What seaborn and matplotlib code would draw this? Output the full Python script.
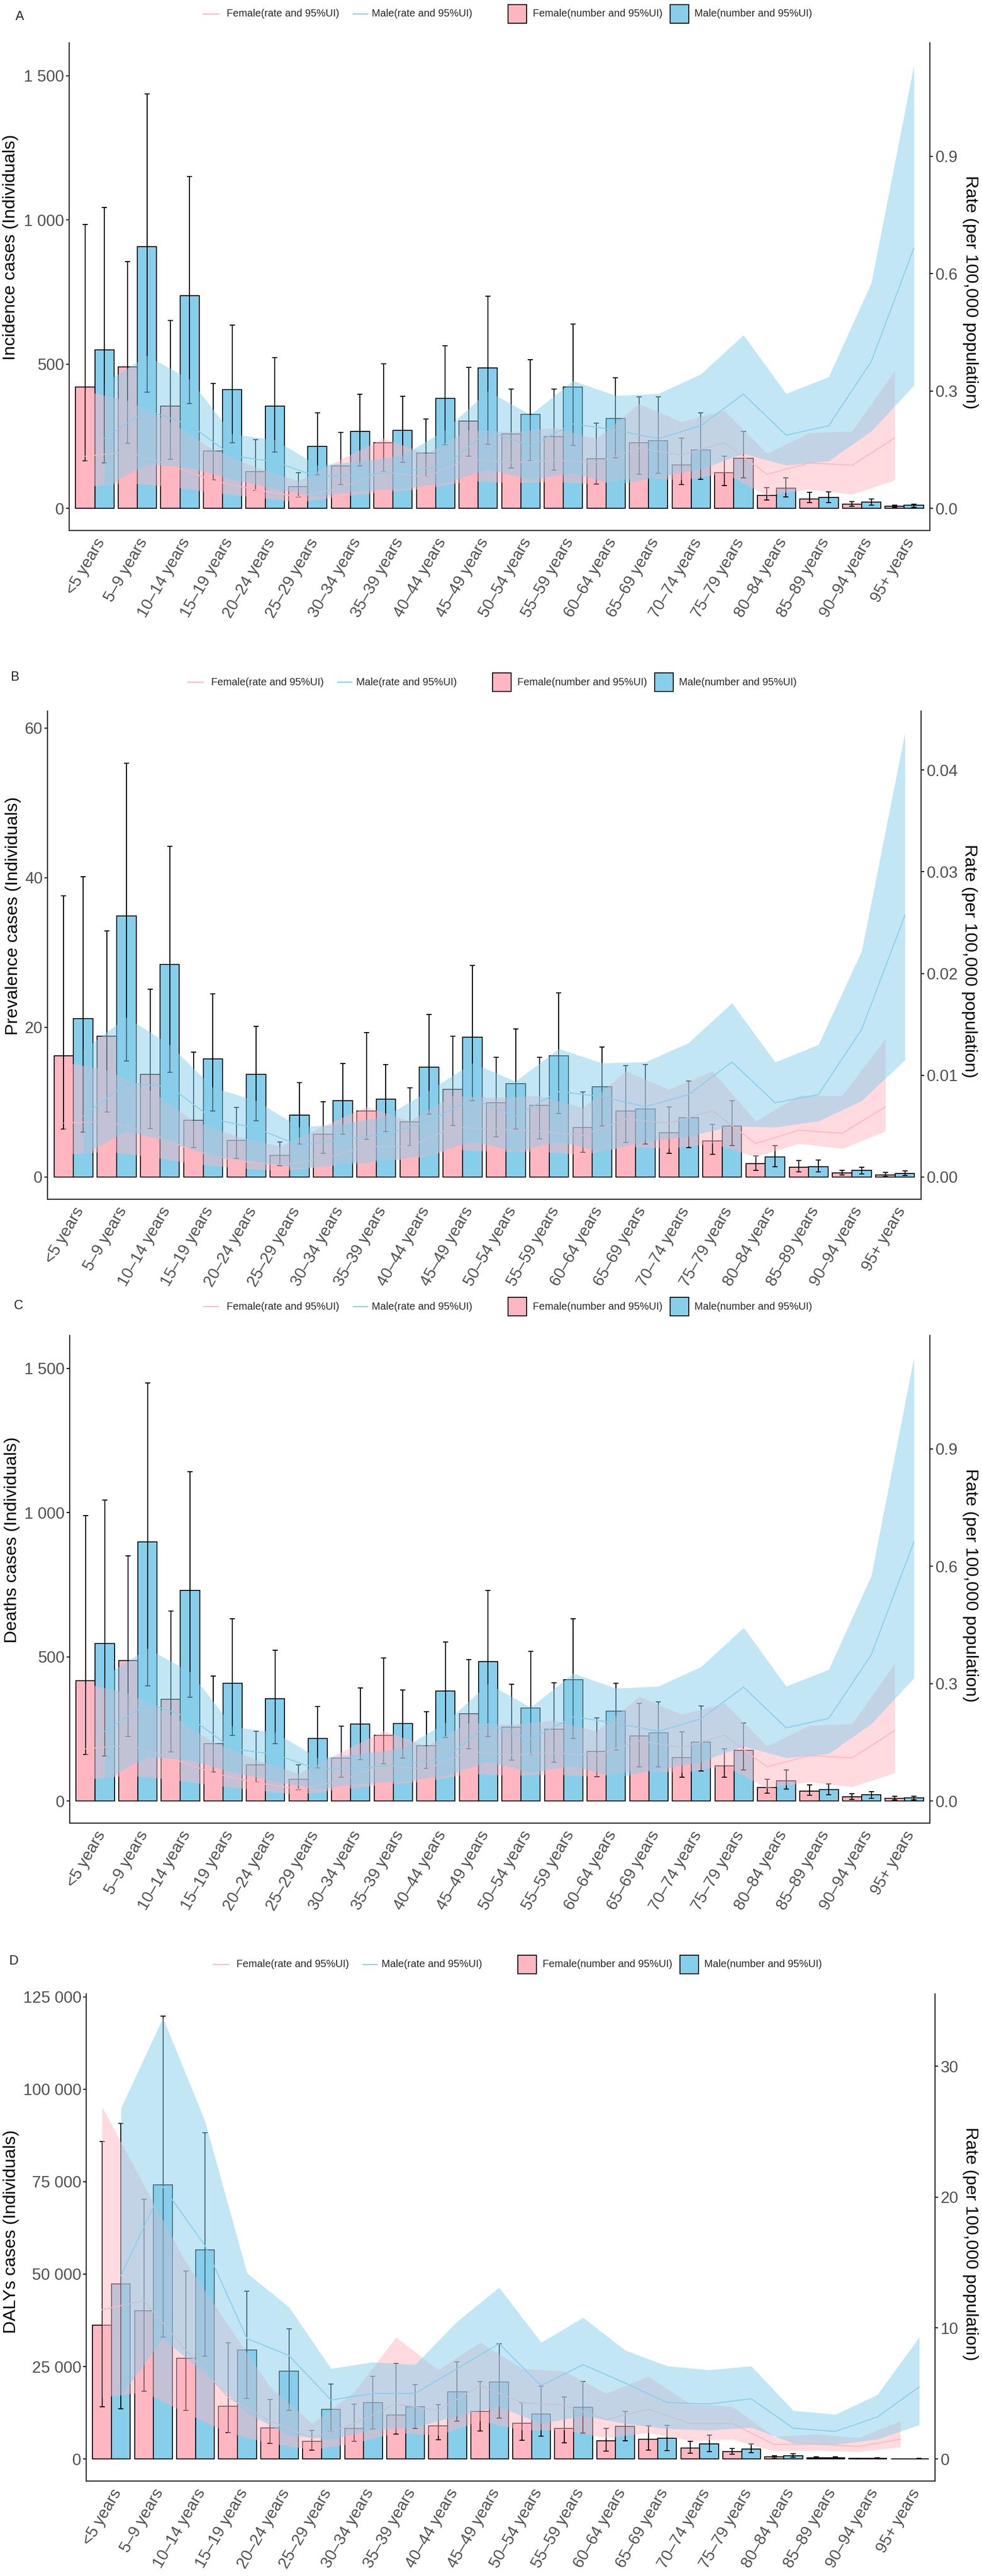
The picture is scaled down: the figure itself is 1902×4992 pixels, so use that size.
import matplotlib
matplotlib.use("Agg")
import matplotlib.pyplot as plt
import numpy as np
import pandas as pd
import seaborn as sns
from matplotlib.lines import Line2D
from matplotlib.patches import Rectangle

# ---------------- data ----------------
age_groups = ["<5 years", "5–9 years", "10–14 years", "15–19 years", "20–24 years",
              "25–29 years", "30–34 years", "35–39 years", "40–44 years", "45–49 years",
              "50–54 years", "55–59 years", "60–64 years", "65–69 years", "70–74 years",
              "75–79 years", "80–84 years", "85–89 years", "90–94 years", "95+ years"]

# Panel A: incidence
A_female_number = [421, 490, 354, 199, 127, 76, 147, 228, 191, 302, 258, 249, 172, 227, 151, 123, 44, 33, 14, 8]
A_female_lo = [165, 225, 170, 98, 63, 39, 82, 128, 110, 180, 139, 132, 85, 119, 82, 79, 28, 19, 8, 3]
A_female_hi = [984, 855, 651, 434, 239, 123, 264, 502, 309, 489, 414, 414, 296, 387, 244, 180, 72, 55, 23, 11]
A_male_number = [550, 907, 738, 411, 355, 215, 267, 271, 382, 486, 326, 421, 311, 234, 203, 174, 69, 37, 21, 10]
A_male_lo = [157, 403, 363, 227, 196, 116, 146, 159, 220, 222, 165, 219, 175, 121, 100, 106, 39, 19, 10, 4]
A_male_hi = [1043, 1437, 1150, 636, 523, 331, 395, 389, 564, 735, 516, 639, 452, 387, 332, 266, 106, 57, 33, 15]
A_female_rate = [0.133, 0.144, 0.110, 0.071, 0.047, 0.030, 0.052, 0.093, 0.080, 0.127, 0.117, 0.123, 0.117, 0.154, 0.136, 0.168, 0.087, 0.116, 0.110, 0.180]
A_female_rate_lo = [0.055, 0.065, 0.055, 0.040, 0.028, 0.016, 0.030, 0.042, 0.050, 0.070, 0.065, 0.068, 0.062, 0.080, 0.072, 0.090, 0.033, 0.049, 0.036, 0.072]
A_female_rate_hi = [0.300, 0.275, 0.220, 0.150, 0.105, 0.070, 0.125, 0.179, 0.140, 0.200, 0.195, 0.206, 0.178, 0.267, 0.221, 0.250, 0.140, 0.193, 0.197, 0.352]
A_male_rate = [0.179, 0.250, 0.214, 0.134, 0.119, 0.081, 0.085, 0.093, 0.109, 0.197, 0.159, 0.216, 0.200, 0.178, 0.211, 0.292, 0.187, 0.211, 0.375, 0.665]
A_male_rate_lo = [0.054, 0.113, 0.104, 0.074, 0.050, 0.030, 0.045, 0.050, 0.065, 0.100, 0.073, 0.090, 0.060, 0.080, 0.100, 0.140, 0.110, 0.121, 0.197, 0.314]
A_male_rate_hi = [0.320, 0.390, 0.330, 0.190, 0.175, 0.110, 0.120, 0.135, 0.200, 0.300, 0.239, 0.326, 0.288, 0.293, 0.343, 0.443, 0.293, 0.336, 0.576, 1.133]

# Panel B: prevalence
B_female_number = [16.2, 18.8, 13.7, 7.6, 4.9, 2.9, 5.7, 8.8, 7.4, 11.7, 9.9, 9.6, 6.6, 8.8, 5.9, 4.8, 1.8, 1.3, 0.55, 0.3]
B_female_lo = [6.4, 8.7, 6.5, 3.9, 2.5, 1.5, 3.2, 5.0, 4.2, 6.9, 5.4, 5.1, 3.3, 4.6, 3.2, 3.0, 0.9, 0.7, 0.3, 0.1]
B_female_hi = [37.6, 32.9, 25.1, 16.7, 9.3, 4.7, 10.1, 19.3, 11.9, 18.8, 16.0, 16.0, 11.4, 14.9, 9.4, 7.0, 2.8, 2.2, 0.9, 0.6]
B_male_number = [21.2, 34.9, 28.4, 15.8, 13.7, 8.3, 10.2, 10.4, 14.7, 18.7, 12.5, 16.2, 12.1, 9.1, 7.9, 6.8, 2.7, 1.4, 0.9, 0.45]
B_male_lo = [6.0, 15.5, 14.0, 8.8, 7.5, 4.4, 5.7, 6.1, 8.4, 10.2, 6.4, 8.5, 6.8, 4.4, 3.9, 4.2, 1.4, 0.7, 0.4, 0.2]
B_male_hi = [40.1, 55.3, 44.2, 24.5, 20.1, 12.6, 15.2, 15.0, 21.7, 28.3, 19.8, 24.6, 17.4, 15.0, 12.8, 10.2, 4.2, 2.3, 1.3, 0.8]
B_female_rate = [0.0053, 0.0055, 0.0043, 0.0026, 0.0016, 0.0012, 0.0018, 0.0030, 0.0030, 0.0049, 0.0047, 0.0045, 0.0041, 0.0057, 0.0053, 0.0065, 0.0033, 0.0046, 0.0043, 0.0069]
B_female_rate_lo = [0.0022, 0.0025, 0.0020, 0.0013, 0.0009, 0.0006, 0.0010, 0.0017, 0.0017, 0.0027, 0.0025, 0.0025, 0.0022, 0.0030, 0.0028, 0.0033, 0.0020, 0.0033, 0.0028, 0.0045]
B_female_rate_hi = [0.0113, 0.0105, 0.0085, 0.0055, 0.0040, 0.0030, 0.0050, 0.0069, 0.0055, 0.0080, 0.0078, 0.0080, 0.0068, 0.0104, 0.0086, 0.0104, 0.0055, 0.0080, 0.0080, 0.0136]
B_male_rate = [0.0060, 0.0092, 0.0089, 0.0057, 0.0048, 0.0031, 0.0037, 0.0042, 0.0055, 0.0077, 0.0060, 0.0084, 0.0079, 0.0069, 0.0081, 0.0113, 0.0073, 0.0081, 0.0145, 0.0257]
B_male_rate_lo = [0.0022, 0.0045, 0.0035, 0.0020, 0.0015, 0.0009, 0.0012, 0.0016, 0.0022, 0.0035, 0.0025, 0.0035, 0.0025, 0.0035, 0.0040, 0.0050, 0.0049, 0.0055, 0.0075, 0.0115]
B_male_rate_hi = [0.0125, 0.0157, 0.0130, 0.0088, 0.0075, 0.0049, 0.0052, 0.0060, 0.0085, 0.0112, 0.0094, 0.0126, 0.0112, 0.0113, 0.0132, 0.0171, 0.0113, 0.0130, 0.0222, 0.0436]

# Panel C: deaths
C_female_number = [417, 487, 352, 198, 126, 76, 148, 227, 191, 302, 256, 249, 172, 226, 151, 122, 46, 34, 14, 9]
C_female_lo = [162, 223, 170, 101, 65, 40, 83, 129, 112, 180, 141, 134, 85, 119, 82, 82, 27, 20, 6, 3]
C_female_hi = [989, 851, 658, 434, 241, 125, 259, 496, 309, 491, 405, 410, 289, 339, 240, 180, 75, 55, 25, 16]
C_male_number = [546, 898, 731, 408, 355, 216, 266, 269, 381, 484, 323, 420, 312, 236, 204, 175, 70, 39, 22, 11]
C_male_lo = [155, 400, 359, 227, 198, 115, 144, 148, 220, 223, 162, 217, 177, 119, 103, 108, 42, 22, 9, 4]
C_male_hi = [1043, 1449, 1141, 631, 523, 328, 392, 384, 552, 730, 519, 631, 408, 343, 330, 270, 108, 60, 33, 17]
C_female_rate = [0.133, 0.143, 0.110, 0.071, 0.047, 0.030, 0.052, 0.093, 0.080, 0.127, 0.117, 0.123, 0.117, 0.154, 0.136, 0.168, 0.087, 0.116, 0.110, 0.180]
C_female_rate_lo = [0.055, 0.065, 0.055, 0.040, 0.028, 0.016, 0.030, 0.042, 0.050, 0.070, 0.065, 0.068, 0.062, 0.080, 0.072, 0.090, 0.033, 0.049, 0.036, 0.072]
C_female_rate_hi = [0.300, 0.275, 0.220, 0.150, 0.105, 0.070, 0.125, 0.179, 0.140, 0.200, 0.195, 0.206, 0.178, 0.267, 0.221, 0.250, 0.140, 0.193, 0.197, 0.352]
C_male_rate = [0.178, 0.249, 0.213, 0.133, 0.119, 0.081, 0.085, 0.093, 0.109, 0.196, 0.158, 0.215, 0.199, 0.178, 0.210, 0.291, 0.187, 0.211, 0.374, 0.662]
C_male_rate_lo = [0.054, 0.113, 0.104, 0.074, 0.050, 0.030, 0.045, 0.050, 0.065, 0.100, 0.073, 0.090, 0.060, 0.080, 0.100, 0.140, 0.110, 0.121, 0.197, 0.314]
C_male_rate_hi = [0.320, 0.390, 0.330, 0.190, 0.175, 0.110, 0.120, 0.135, 0.200, 0.300, 0.239, 0.326, 0.288, 0.293, 0.343, 0.443, 0.293, 0.336, 0.576, 1.133]

# Panel D: DALYs
D_female_number = [36100, 40100, 27200, 14200, 8400, 4700, 8300, 11900, 8900, 12900, 9700, 8200, 4900, 5300, 3000, 2000, 600, 330, 120, 40]
D_female_lo = [14100, 18300, 13100, 7100, 4200, 2400, 4700, 6700, 5200, 7600, 5100, 4300, 2100, 2400, 1600, 1300, 200, 150, 50, 10]
D_female_hi = [85900, 70300, 50800, 31400, 16100, 7700, 14800, 25900, 14700, 20900, 15200, 16700, 8200, 9000, 4800, 2800, 900, 550, 220, 80]
D_male_number = [47400, 74200, 56500, 29400, 23800, 13400, 15200, 14100, 18100, 20800, 12200, 14000, 8800, 5600, 4000, 2700, 900, 350, 200, 50]
D_male_lo = [13600, 33000, 27800, 16300, 13200, 7400, 8100, 8300, 10200, 11100, 6100, 7000, 4900, 2300, 2000, 1700, 400, 150, 80, 20]
D_male_hi = [90800, 119800, 88300, 45400, 35200, 20300, 22400, 20100, 26200, 31200, 19700, 20900, 12900, 9100, 6400, 4100, 1400, 600, 330, 100]
D_female_rate = [11.4, 12.1, 8.3, 4.7, 2.9, 1.6, 2.7, 4.2, 3.7, 5.6, 4.3, 4.1, 3.0, 3.8, 2.7, 2.7, 1.1, 1.13, 0.95, 1.5]
D_female_rate_lo = [4.7, 5.1, 3.5, 2.0, 1.2, 0.7, 1.2, 2.0, 1.8, 2.9, 2.2, 2.2, 1.6, 2.0, 1.4, 1.5, 0.6, 0.65, 0.55, 0.9]
D_female_rate_hi = [26.9, 20.9, 15.0, 10.2, 5.5, 2.7, 5.1, 9.3, 6.8, 8.9, 6.9, 6.7, 5.0, 6.3, 4.2, 4.0, 1.7, 1.9, 1.6, 2.9]
D_male_rate = [14.0, 20.8, 16.3, 9.2, 7.9, 4.5, 5.0, 5.0, 6.9, 8.8, 5.6, 7.2, 5.8, 4.3, 4.2, 4.6, 2.35, 2.1, 3.2, 5.5]
D_male_rate_lo = [4.8, 9.2, 6.5, 3.5, 1.8, 1.5, 2.2, 2.4, 3.3, 4.0, 2.7, 3.3, 2.7, 2.3, 2.2, 2.4, 1.2, 1.1, 1.5, 2.6]
D_male_rate_hi = [26.8, 33.7, 25.8, 14.2, 11.6, 6.9, 7.4, 7.2, 10.5, 13.1, 8.9, 10.8, 8.3, 7.1, 6.8, 7.1, 3.7, 3.4, 4.9, 9.3]

A_count_ticks = [0, 500, 1000, 1500]
B_count_ticks = [0, 20, 40, 60]
C_count_ticks = [0, 500, 1000, 1500]
D_count_ticks = [0, 25000, 50000, 75000, 100000, 125000]
A_rate_ticks = [0.0, 0.3, 0.6, 0.9]
B_rate_ticks = [0.00, 0.01, 0.02, 0.03, 0.04]
C_rate_ticks = [0.0, 0.3, 0.6, 0.9]
D_rate_ticks = [0, 10, 20, 30]

# ---------------- style ----------------
PINK = "#FFB6C1"
BLUE = "#87CEEB"
GREY_TXT = "#4D4D4D"

sns.set_style("white")
plt.rcParams["font.family"] = ["Liberation Sans", "DejaVu Sans"]

W, H = 1902, 4992
fig = plt.figure(figsize=(W / 100, H / 100), dpi=100)

TICK_FS = 22.5
TITLE_FS = 24.5
LEG_FS = 14.3
TAG_FS = 18


def fx(x):
    return x / W


def fy(y):
    return 1 - y / H


def fmt_count(v):
    return f"{int(round(v)):,}".replace(",", " ")


def draw_legend(x0, yc):
    lw = 1.6
    fig.add_artist(Line2D([fx(x0), fx(x0 + 30)], [fy(yc), fy(yc)], color=PINK, lw=lw,
                          transform=fig.transFigure))
    fig.text(fx(x0 + 45), fy(yc), "Female(rate and 95%UI)", fontsize=LEG_FS, ha="left", va="center")
    fig.add_artist(Line2D([fx(x0 + 290), fx(x0 + 318)], [fy(yc), fy(yc)], color=BLUE, lw=lw,
                          transform=fig.transFigure))
    fig.text(fx(x0 + 326), fy(yc), "Male(rate and 95%UI)", fontsize=LEG_FS, ha="left", va="center")
    bw, bh = 36, 36
    fig.add_artist(Rectangle((fx(x0 + 590), fy(yc + bh / 2)), bw / W, bh / H, facecolor=PINK,
                             edgecolor="black", lw=1.3, transform=fig.transFigure))
    fig.text(fx(x0 + 638), fy(yc), "Female(number and 95%UI)", fontsize=LEG_FS, ha="left", va="center")
    fig.add_artist(Rectangle((fx(x0 + 904), fy(yc + bh / 2)), bw / W, bh / H, facecolor=BLUE,
                             edgecolor="black", lw=1.3, transform=fig.transFigure))
    fig.text(fx(x0 + 951), fy(yc), "Male(number and 95%UI)", fontsize=LEG_FS, ha="left", va="center")


def draw_panel(box, tag, tag_pos, leg_pos, ytitle, ytitle_pos, rtitle_pos,
               fn, flo, fhi, mn, mlo, mhi, fr, frlo, frhi, mr, mrlo, mrhi,
               factor, cticks, clabels, rticks, rlabels):
    L, T, R, B = box
    ax = fig.add_axes([fx(L), fy(B), (R - L) / W, (B - T) / H])
    df = pd.DataFrame({
        "age": age_groups * 2,
        "sex": ["Female"] * len(age_groups) + ["Male"] * len(age_groups),
        "number": list(fn) + list(mn),
    })
    sns.barplot(data=df, x="age", y="number", hue="sex", order=age_groups,
                hue_order=["Female", "Male"], palette={"Female": PINK, "Male": BLUE},
                width=0.9, saturation=1, edgecolor="black", linewidth=1.3,
                errorbar=None, legend=False, ax=ax)
    centers = []
    for cont in ax.containers:
        centers.append(np.array([p.get_x() + p.get_width() / 2 for p in cont]))
    xf, xm = centers[0], centers[1]
    for xs, v, lo, hi in [(xf, fn, flo, fhi), (xm, mn, mlo, mhi)]:
        v = np.array(v, float)
        ax.errorbar(xs, v, yerr=[v - np.array(lo, float), np.array(hi, float) - v], fmt="none",
                    ecolor="black", elinewidth=1.4, capsize=3.6, capthick=1.4, zorder=3)

    ax2 = ax.twinx()
    ax2.fill_between(xf, frlo, frhi, color=PINK, alpha=0.5, lw=0, zorder=1)
    ax2.plot(xf, fr, color=PINK, lw=1.4, zorder=2)
    ax2.fill_between(xm, mrlo, mrhi, color=BLUE, alpha=0.5, lw=0, zorder=3)
    ax2.plot(xm, mr, color=BLUE, lw=1.4, zorder=4)

    hi = max(max(fhi), max(mhi), max(fn), max(mn), max(frhi) * factor, max(mrhi) * factor)
    lo = 0.0
    span = hi - lo
    y0, y1 = lo - 0.05 * span, hi + 0.05 * span
    ax.set_ylim(y0, y1)
    ax2.set_ylim(y0 / factor, y1 / factor)
    ax.set_xlim(-0.6, len(age_groups) - 0.4)

    ax.set_xlabel("")
    ax.set_ylabel("")
    ax.set_yticks(cticks)
    ax.set_yticklabels(clabels)
    ax.set_xticks(range(len(age_groups)))
    ax.set_xticklabels(age_groups, rotation=60, ha="right", va="top", rotation_mode="anchor")
    ax2.set_yticks(rticks)
    ax2.set_yticklabels(rlabels)

    for a in (ax, ax2):
        a.tick_params(axis="both", labelsize=TICK_FS, labelcolor=GREY_TXT, color="black",
                      length=4.3, width=1.4, direction="out")
        a.grid(False)
    ax.tick_params(axis="y", pad=2.5)
    ax.tick_params(axis="x", pad=3)
    ax2.tick_params(axis="y", pad=3.5)
    ax.spines["top"].set_visible(False)
    ax.spines["right"].set_visible(False)
    ax.spines["left"].set_linewidth(1.6)
    ax.spines["bottom"].set_linewidth(1.6)
    for s in ("top", "left", "bottom"):
        ax2.spines[s].set_visible(False)
    ax2.spines["right"].set_linewidth(1.6)

    fig.text(fx(ytitle_pos[0]), fy(ytitle_pos[1]), ytitle, rotation=90, fontsize=TITLE_FS,
             ha="center", va="center", color="black")
    fig.text(fx(rtitle_pos[0]), fy(rtitle_pos[1]), "Rate (per 100,000 population)", rotation=270,
             fontsize=TITLE_FS, ha="center", va="center", color="black")
    fig.text(fx(tag_pos[0]), fy(tag_pos[1]), tag, fontsize=TAG_FS, ha="left", va="center")
    draw_legend(*leg_pos)


draw_panel((134, 83, 1801, 1028), "A", (30, 32), (394, 27), "Incidence cases (Individuals)",
           (21, 479), (1879, 566),
           A_female_number, A_female_lo, A_female_hi, A_male_number, A_male_lo, A_male_hi,
           A_female_rate, A_female_rate_lo, A_female_rate_hi, A_male_rate, A_male_rate_lo, A_male_rate_hi,
           1357, A_count_ticks, [fmt_count(v) for v in A_count_ticks],
           A_rate_ticks, [f"{v:.1f}" for v in A_rate_ticks])

draw_panel((92, 1378, 1784, 2324), "B", (21, 1312), (364, 1322), "Prevalence cases (Individuals)",
           (26, 1775), (1878, 1862),
           B_female_number, B_female_lo, B_female_hi, B_male_number, B_male_lo, B_male_hi,
           B_female_rate, B_female_rate_lo, B_female_rate_hi, B_male_rate, B_male_rate_lo, B_male_rate_hi,
           1360, B_count_ticks, [fmt_count(v) for v in B_count_ticks],
           B_rate_ticks, [f"{v:.2f}" for v in B_rate_ticks])

draw_panel((135, 2588, 1801, 3533), "C", (27, 2530), (394, 2532), "Deaths cases (Individuals)",
           (24, 2984), (1879, 3072),
           C_female_number, C_female_lo, C_female_hi, C_male_number, C_male_lo, C_male_hi,
           C_female_rate, C_female_rate_lo, C_female_rate_hi, C_male_rate, C_male_rate_lo, C_male_rate_hi,
           1357, C_count_ticks, [fmt_count(v) for v in C_count_ticks],
           C_rate_ticks, [f"{v:.1f}" for v in C_rate_ticks])

draw_panel((167, 3864, 1811, 4808), "D", (18, 3800), (413, 3807), "DALYs cases (Individuals)",
           (22, 4325), (1879, 4348),
           D_female_number, D_female_lo, D_female_hi, D_male_number, D_male_lo, D_male_hi,
           D_female_rate, D_female_rate_lo, D_female_rate_hi, D_male_rate, D_male_rate_lo, D_male_rate_hi,
           3541, D_count_ticks, [fmt_count(v) for v in D_count_ticks],
           D_rate_ticks, [f"{v:d}" for v in D_rate_ticks])

fig.savefig("out.png", dpi=100, facecolor="white")
